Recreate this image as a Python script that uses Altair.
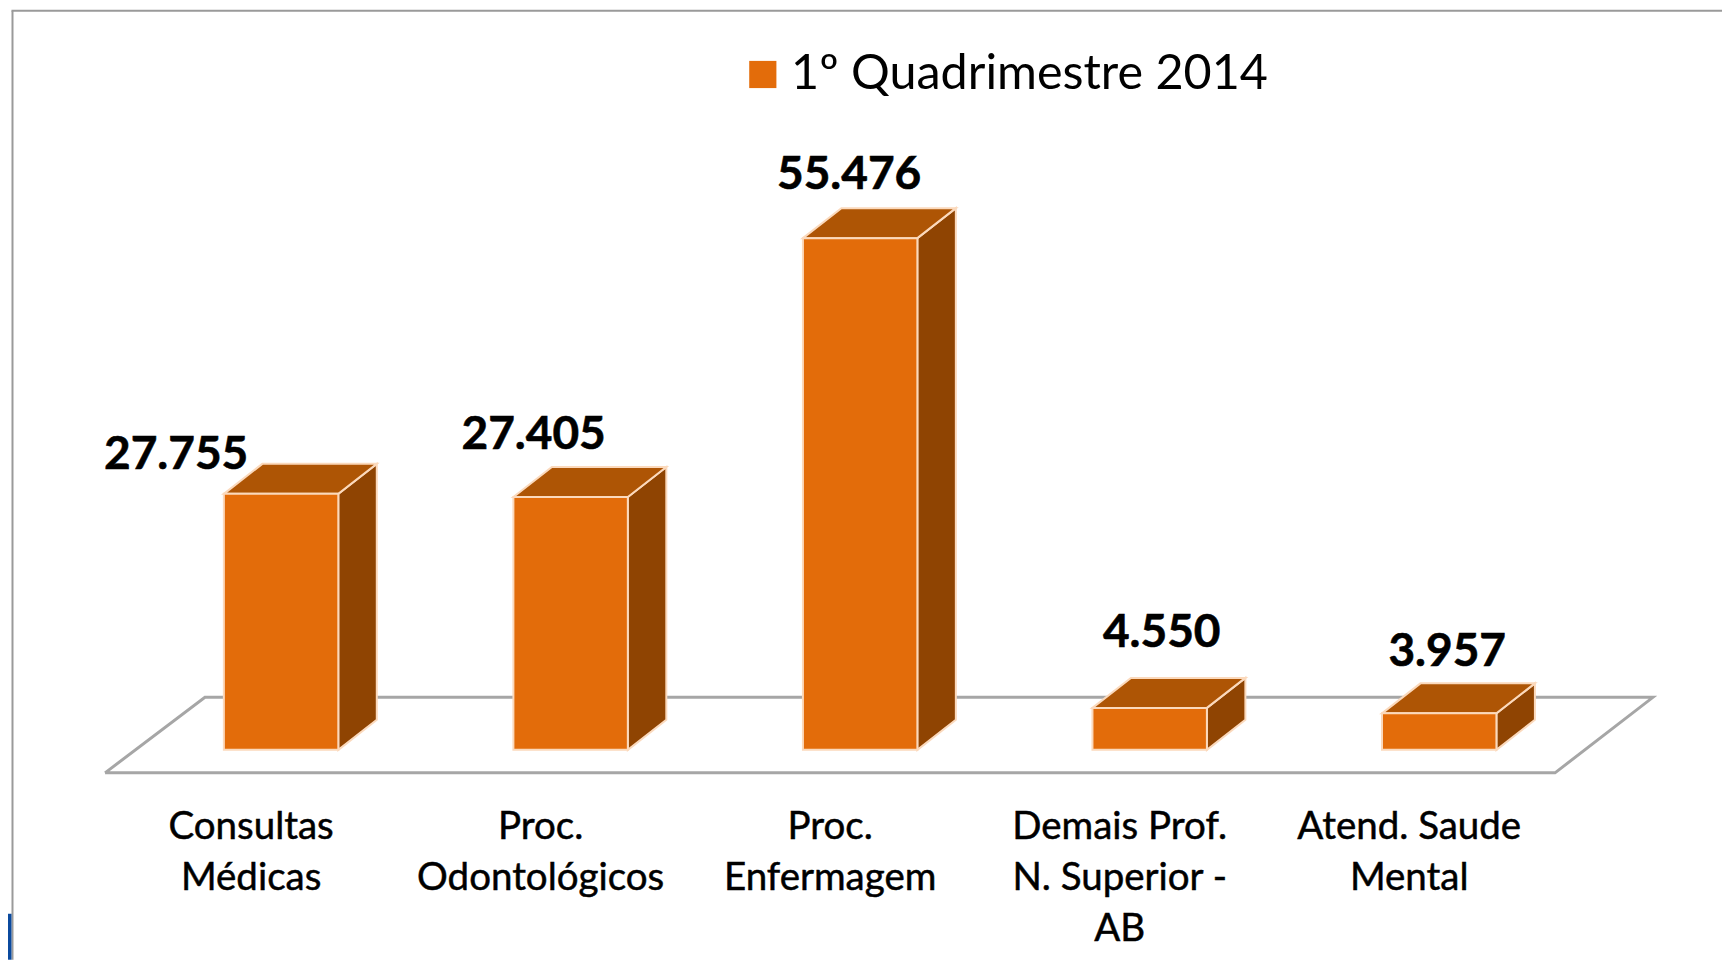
import altair as alt
import pandas as pd

CATEGORIES = ["Consultas\nMédicas", "Proc.\nOdontológicos", "Proc.\nEnfermagem",
              "Demais Prof.\nN. Superior -\nAB", "Atend. Saude\nMental"]
VALUES = [27755, 27405, 55476, 4550, 3957]
VALUE_LABELS = ["27.755", "27.405", "55.476", "4.550", "3.957"]
SERIES = "1º Quadrimestre 2014"

FRONT, TOP, SIDE, EDGE = "#E36C0A", "#AE5505", "#8F4402", "#FBD9BC"
FLOOR, FRAME, BLUE = "#A6A6A6", "#9A9A9A", "#0B4A9E"
FONT = "Lato"

W, H = 1715, 952
PX_PER_X = 289.7
PX_PER_Y = 512 / 55476
X0_PX, Y0_PX = 273.25, 742
x_scale = alt.Scale(domain=[-X0_PX / PX_PER_X, (W - X0_PX) / PX_PER_X], nice=False, zero=False)
y_scale = alt.Scale(domain=[(Y0_PX - H) / PX_PER_Y, Y0_PX / PX_PER_Y], nice=False, zero=False)
HALF = 57.25 / PX_PER_X
DX, DY = 38.5 / PX_PER_X, 30 / PX_PER_Y

X = alt.X("x:Q", scale=x_scale, axis=None)
Y = alt.Y("y:Q", scale=y_scale, axis=None)

# offsets of the hand-placed labels relative to the bars, in pixels
VALUE_NUDGE = [(-105, -25), (-37, -48), (-11, -49), (12, -61), (8, -47)]
CAT_NUDGE = -30

bars, sides, tops = [], [], []
for i, (c, v) in enumerate(zip(CATEGORIES, VALUES)):
    l, r = i - HALF, i + HALF
    bars.append({"x": l, "x2": r, "y": v, "y2": 0, "series": SERIES})
    sides += [{"i": i, "x": r, "y": v, "y2": 0},
              {"i": i, "x": r + DX, "y": v + DY, "y2": DY}]
    tops += [{"i": i, "x": l, "y": v, "y2": v},
             {"i": i, "x": l + DX, "y": v + DY, "y2": v},
             {"i": i, "x": r, "y": v + DY, "y2": v},
             {"i": i, "x": r + DX, "y": v + DY, "y2": v + DY}]

floor = pd.DataFrame({
    "x": [-0.608, -0.263, 4.738, 4.40, -0.608],
    "y": [-2492, 5690, 5690, -2492, -2492],
    "o": [0, 1, 2, 3, 4],
})

floor_layer = alt.Chart(floor).mark_line(color=FLOOR, strokeWidth=3, interpolate="linear").encode(
    x=X, y=Y, order="o:Q")

side_layer = alt.Chart(pd.DataFrame(sides)).mark_area(
    color=SIDE, stroke=EDGE, strokeWidth=2, opacity=1).encode(
    x=X, y=Y, y2="y2:Q", detail="i:N")
top_layer = alt.Chart(pd.DataFrame(tops)).mark_area(
    color=TOP, stroke=EDGE, strokeWidth=2, opacity=1).encode(
    x=X, y=Y, y2="y2:Q", detail="i:N")
bar_layer = alt.Chart(pd.DataFrame(bars)).mark_bar(stroke=EDGE, strokeWidth=2, opacity=1).encode(
    x=X, x2="x2:Q", y=Y, y2="y2:Q",
    color=alt.Color("series:N",
                    scale=alt.Scale(domain=[SERIES], range=[FRONT]),
                    legend=alt.Legend(orient="none", legendX=731, legendY=42, title=None,
                                      symbolType="square", symbolSize=740, symbolStrokeWidth=0,
                                      labelFont=FONT, labelFontSize=48.5, labelColor="#000000",
                                      labelLimit=700, labelOffset=4)),
)

value_layers = [
    alt.Chart(pd.DataFrame({"x": [i], "y": [v], "t": [t]})).mark_text(
        font=FONT, fontSize=46, fontWeight="bold", color="#000000", stroke="#000000", strokeWidth=0.6,
        baseline="alphabetic", align="center", dx=n[0], dy=n[1]).encode(x=X, y=Y, text="t:N")
    for i, (v, t, n) in enumerate(zip(VALUES, VALUE_LABELS, VALUE_NUDGE))
]

cat_df = pd.DataFrame({"x": list(range(5)), "t": CATEGORIES})
cat_layer = alt.Chart(cat_df).mark_text(
    font=FONT, fontSize=38.5, color="#000000", stroke="#000000", strokeWidth=0.5,
    baseline="alphabetic", align="center",
    lineBreak="\n", lineHeight=51, dx=CAT_NUDGE).encode(
    x=X, y=alt.value(831), text="t:N")

frame_top = alt.Chart(pd.DataFrame({"a": [0]})).mark_rule(color=FRAME, strokeWidth=2).encode(
    x=alt.value(3.5), x2=alt.value(W), y=alt.value(2.5))
frame_left = alt.Chart(pd.DataFrame({"a": [0]})).mark_rule(color=FRAME, strokeWidth=2).encode(
    x=alt.value(4.5), y=alt.value(2.5), y2=alt.value(H))
corner = alt.Chart(pd.DataFrame({"a": [0]})).mark_rect(color=BLUE).encode(
    x=alt.value(0), x2=alt.value(3.5), y=alt.value(906), y2=alt.value(H))

chart = alt.layer(
    frame_top, frame_left, corner, floor_layer, side_layer, top_layer, bar_layer,
    *value_layers, cat_layer,
).properties(width=W, height=H, padding=0, background="#FFFFFF"
).configure_view(stroke=None)

chart.save("out.html", embed_options={"renderer": "svg", "actions": False})
